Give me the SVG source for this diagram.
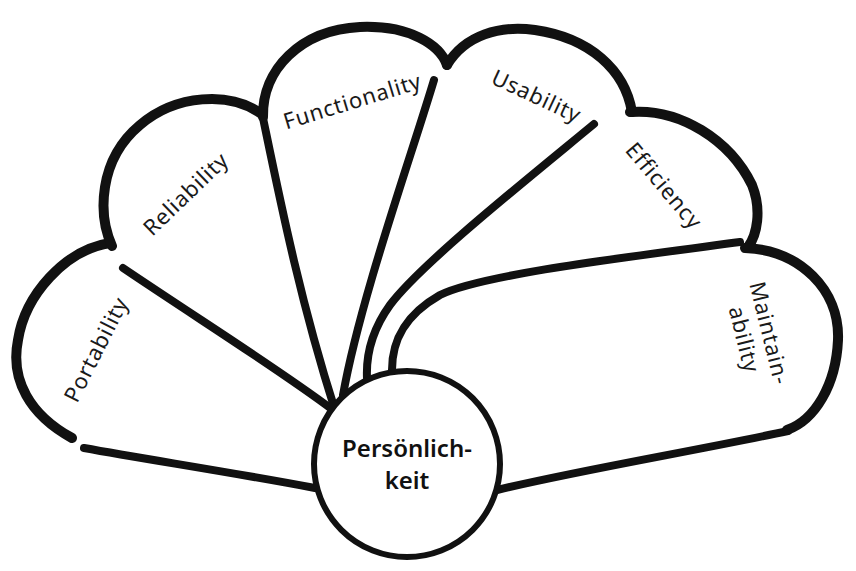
<svg xmlns="http://www.w3.org/2000/svg" width="856" height="571" viewBox="0 0 856 571">
<style>
.arc{fill:none;stroke:#111;stroke-width:10;stroke-linecap:round;stroke-linejoin:round}
.edge{fill:none;stroke:#111;stroke-width:8;stroke-linecap:round;stroke-linejoin:round}
.lbl{font-family:"Noto Sans","Open Sans",sans-serif;font-size:22px;letter-spacing:0.8px;fill:#1a1a1a;text-anchor:middle;dominant-baseline:central}
.hub{font-family:"Noto Sans","Open Sans",sans-serif;font-size:24px;font-weight:600;fill:#111;text-anchor:middle}
</style>
<rect width="856" height="571" fill="#fff"/>
<g id="connectors">
<path class="edge" d="M315 488 C230 472 150 460 84 448"/>
<path class="edge" d="M123 268 C200 320 280 370 333 410"/>
<path class="edge" d="M263 118 C280 200 300 300 335 410"/>
<path class="edge" d="M434 80 C410 160 360 300 343 395"/>
<path class="edge" d="M594 124 C520 185 420 265 390 305 C372 330 366 355 367 378"/>
<path class="edge" d="M740 242 C620 258 480 275 440 295 C405 315 392 340 392 370"/>
<path class="edge" d="M788 431 C700 450 580 470 497 490"/>
</g>
<g id="node-portability">
<path class="arc" d="M72 438 C30 415 10 380 18 340 C25 295 65 250 110 243"/>
<text class="lbl" transform="translate(95 349) rotate(-63)">Portability</text>
</g>
<g id="node-reliability">
<path class="arc" d="M112 246 C98 215 98 160 140 125 C175 95 230 90 263 115"/>
<text class="lbl" transform="translate(185 193) rotate(-44)">Reliability</text>
</g>
<g id="node-functionality">
<path class="arc" d="M263 117 C262 70 300 30 360 27 C410 25 440 45 447 65"/>
<text class="lbl" transform="translate(352 100) rotate(-17)">Functionality</text>
</g>
<g id="node-usability">
<path class="arc" d="M447 65 C465 35 500 25 535 30 C590 38 625 70 632 112"/>
<text class="lbl" transform="translate(537 95) rotate(25)">Usability</text>
</g>
<g id="node-efficiency">
<path class="arc" d="M630 112 C680 108 730 140 752 185 C762 210 757 235 748 247"/>
<text class="lbl" transform="translate(665 185) rotate(50)">Efficiency</text>
</g>
<g id="node-maintainability">
<path class="arc" d="M745 248 C800 250 840 290 838 340 C836 385 815 420 787 430"/>
<text class="lbl" transform="translate(758 336) rotate(76)"><tspan x="0" y="-13">Maintain-</tspan><tspan x="0" y="13">ability</tspan></text>
</g>
<g id="node-hub">
<circle cx="407" cy="464" r="93" fill="#fff" stroke="#111" stroke-width="6"/>
<text class="hub" x="407" y="457">Persönlich-</text>
<text class="hub" x="407" y="489">keit</text>
</g>
</svg>
